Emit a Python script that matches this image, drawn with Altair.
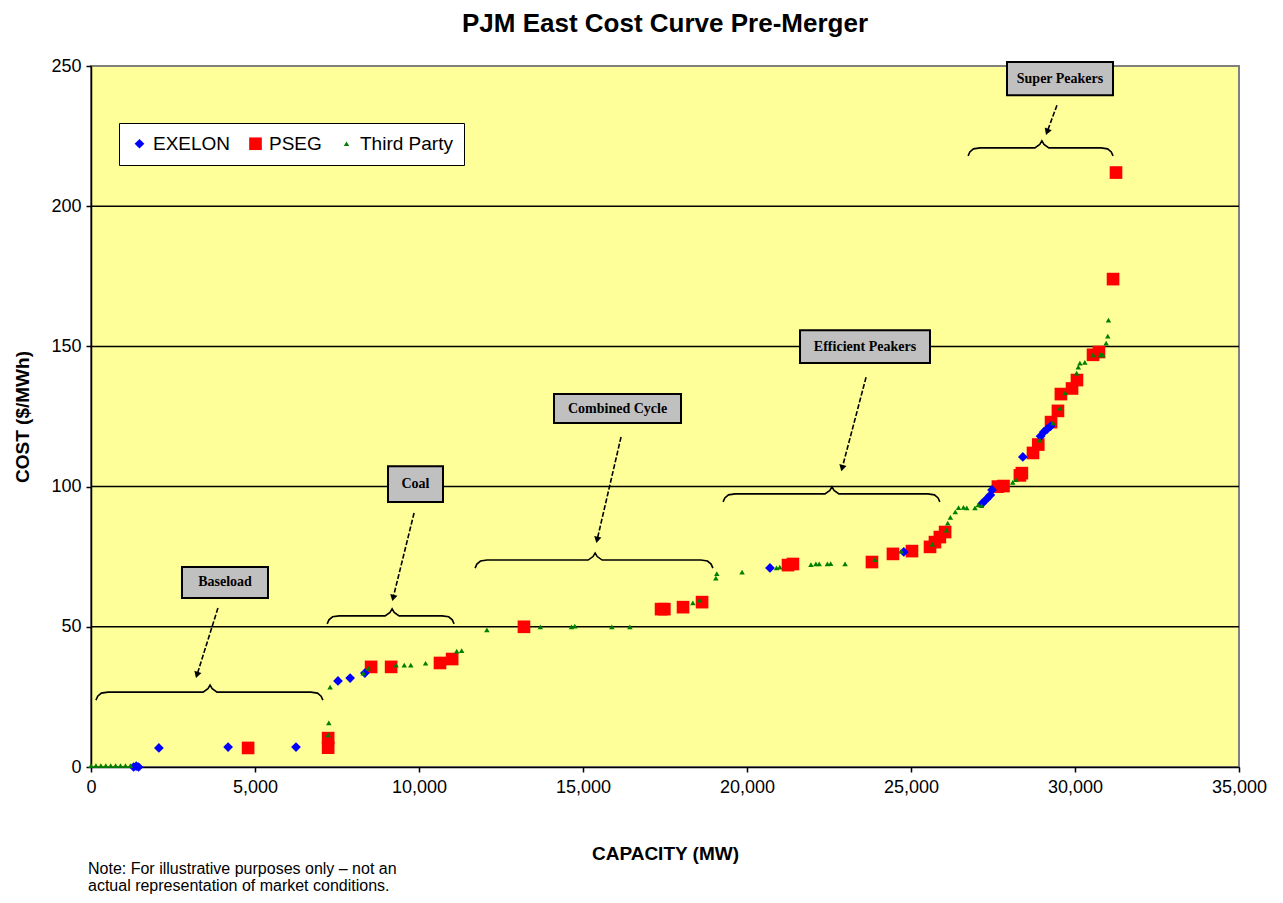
import math
import altair as alt
import pandas as pd

# ---------------- text ----------------
TITLE = "PJM East Cost Curve Pre-Merger"
X_TITLE = "CAPACITY (MW)"
Y_TITLE = "COST ($/MWh)"
NOTE_TEXT = "Note: For illustrative purposes only \u2013 not an\nactual representation of market conditions."

# ---------------- axes ----------------
x_ticks = [0, 5000, 10000, 15000, 20000, 25000, 30000, 35000]
y_ticks = [0, 50, 100, 150, 200, 250]
grid_values = [50, 100, 150, 200]

# ---------------- series ----------------
companies = ["EXELON", "PSEG", "Third Party"]
colors = ["#0000FF", "#FF0000", "#008000"]
shapes = ["diamond", "square", "triangle-up"]
sizes = [95, 160, 30]
draw_order = {"PSEG": 0, "EXELON": 1, "Third Party": 2}

exelon_x = [1300, 1380, 1450, 2070, 4180, 6250, 7530, 7900, 8350, 20700, 24780,
            27170, 27300, 27420, 27470, 28410, 28950, 29050, 29150, 29250]
exelon_y = [0, 0.3, 0, 6.8, 7.1, 7.1, 30.7, 31.7, 33.5, 71, 76.7,
            94, 95.5, 97, 98.8, 110.6, 118, 119.5, 120.5, 121.5]

pseg_x = [4790, 7230, 7230, 8540, 9150, 10640, 11010, 13200, 17380, 17480, 18050, 18630,
          21250, 21400, 23810, 24450, 25030, 25580, 25730, 25880, 26040,
          27650, 27820, 28320, 28380, 28720, 28880, 29270, 29480, 29570, 29910, 30060,
          30550, 30730, 31160, 31250]
pseg_y = [6.8, 6.9, 10.3, 35.7, 35.7, 37.1, 38.5, 50, 56.3, 56.3, 57, 58.8,
          72.0, 72.4, 73.1, 76, 77, 78.5, 80.2, 82, 83.8,
          100, 100.2, 104, 104.8, 112, 115, 123, 127, 133, 135, 138,
          147, 148, 174, 212]

third_x = [0, 150, 300, 450, 600, 750, 900, 1050, 1200,
           7230, 7250, 7290, 8300, 8450, 9300, 9550, 9750, 10200, 11150, 11300,
           12070, 13700, 14650, 14750, 15880, 16430, 18350, 18550, 19050, 19080, 19850,
           20900, 21000, 21950, 22100, 22200, 22450, 22550, 22990, 23900, 24700, 25650,
           26080, 26120, 26200, 26350, 26450, 26600, 26700, 26950, 27050, 27150,
           28100, 28200, 28930, 29330, 29540, 29700, 30050, 30100, 30150, 30300,
           30550, 30780, 30850, 30950, 31000, 31020]
third_y = [0.5, 0.5, 0.5, 0.5, 0.5, 0.5, 0.5, 0.5, 0.5,
           11.5, 15.7, 28.5, 33.5, 35.2, 36.3, 36.3, 36.3, 37, 41.3, 41.5,
           48.9, 50, 50, 50.2, 50, 50, 58.5, 59.5, 67.4, 69, 69.5,
           71, 71.3, 72.2, 72.4, 72.4, 72.4, 72.5, 72.4, 74, 77, 79.5,
           84.5, 87, 89, 91, 92.5, 92.6, 92.4, 92.4, 93.5, 93.2,
           101.5, 102.5, 116.6, 122.7, 128, 133.4, 140.5, 142.6, 144, 144.3,
           147, 147, 147, 151.2, 153.7, 159.4]

# ---------------- annotations ----------------
ann_labels = ["Baseload", "Coal", "Combined Cycle", "Efficient Peakers", "Super Peakers"]
box_x1 = [2774, 9055, 14116, 21616, 27927]
box_x2 = [5396, 10732, 17988, 25579, 31159]
box_y1 = [60.3, 94.5, 122.7, 144.1, 239.6]
box_y2 = [71.3, 107.3, 133.0, 155.8, 251.4]

brace_x0 = [150, 7200, 11710, 19270, 26740]
brace_x1 = [7070, 11070, 18960, 25880, 31160]
brace_mid = [3630, 9180, 15370, 22590, 28990]
brace_y = [26.7, 53.9, 73.8, 97.4, 220.8]

arrow_x0 = [3870, 9850, 16160, 23630, 29450]
arrow_y0 = [56.7, 90.6, 117.7, 139.0, 236.0]
arrow_x1 = [3230, 9210, 15430, 22900, 29150]
arrow_y1 = [32.8, 60.3, 81.0, 106.6, 226.5]

# ---------------- geometry ----------------
W, H = 1148, 701
X_MAX, Y_MAX = 35000, 250
PX_X = W / X_MAX
PX_Y = H / Y_MAX

rows = []
for name, xs_, ys_ in [("PSEG", pseg_x, pseg_y), ("EXELON", exelon_x, exelon_y),
                       ("Third Party", third_x, third_y)]:
    for a, b in zip(xs_, ys_):
        rows.append({"company": name, "capacity": a, "cost": b, "z": draw_order[name]})
points = pd.DataFrame(rows)

boxes = pd.DataFrame({"label": ann_labels, "x1": box_x1, "x2": box_x2, "y1": box_y1, "y2": box_y2})
boxes["xc"] = (boxes["x1"] + boxes["x2"]) / 2
boxes["yc"] = (boxes["y1"] + boxes["y2"]) / 2

# brace outline built from the brace arrays (offsets in pixels converted to data units)
brace_rows = []
hook_w, drop, peak_w, peak_h = 12, 8, 7, 7
for i, (x0, x1, xm, yb) in enumerate(zip(brace_x0, brace_x1, brace_mid, brace_y)):
    pts = [
        (x0, yb - drop / PX_Y),
        (x0 + 0.15 * hook_w / PX_X, yb - 0.5 * drop / PX_Y),
        (x0 + 0.45 * hook_w / PX_X, yb - 0.12 * drop / PX_Y),
        (x0 + hook_w / PX_X, yb),
        (xm - peak_w / PX_X, yb),
        (xm - 0.3 * peak_w / PX_X, yb + 0.5 * peak_h / PX_Y),
        (xm, yb + peak_h / PX_Y),
        (xm + 0.3 * peak_w / PX_X, yb + 0.5 * peak_h / PX_Y),
        (xm + peak_w / PX_X, yb),
        (x1 - hook_w / PX_X, yb),
        (x1 - 0.45 * hook_w / PX_X, yb - 0.12 * drop / PX_Y),
        (x1 - 0.15 * hook_w / PX_X, yb - 0.5 * drop / PX_Y),
        (x1, yb - drop / PX_Y),
    ]
    for k, (px, py) in enumerate(pts):
        brace_rows.append({"brace": i, "k": k, "bx": px, "by": py})
braces = pd.DataFrame(brace_rows)

arrows = pd.DataFrame({"x0": arrow_x0, "y0": arrow_y0, "x1": arrow_x1, "y1": arrow_y1})
arrows["angle"] = [
    (math.degrees(math.atan2(-(b - a) * PX_X, (c - d) * PX_Y)) + 360) % 360
    for a, b, c, d in zip(arrow_x0, arrow_x1, arrow_y0, arrow_y1)
]

grid_df = pd.DataFrame({"g": grid_values})
note_df = pd.DataFrame({"note": [NOTE_TEXT]})

# ---------------- chart ----------------
xs = alt.Scale(domain=[0, X_MAX], nice=False)
ys = alt.Scale(domain=[0, Y_MAX], nice=False)
x_axis = alt.Axis(values=x_ticks, labelExpr="format(datum.value, ',')", title=X_TITLE, grid=False,
                  labelPadding=6, titlePadding=48, labelFlush=False)
y_axis = alt.Axis(values=y_ticks, title=Y_TITLE, grid=False, labelPadding=5, titlePadding=18)

legend = alt.Legend(title=None, orient="none", legendX=28, legendY=57, direction="horizontal",
                    fillColor="white", strokeColor="black", padding=11, columnPadding=15,
                    labelFont="Liberation Sans", labelFontSize=19, labelColor="black",
                    labelOffset=4, symbolStrokeWidth=0)

grid = alt.Chart(grid_df).mark_rule(color="black", strokeWidth=1.5).encode(
    y=alt.Y("g:Q", scale=ys, axis=y_axis))

brace_layer = alt.Chart(braces).mark_line(color="black", strokeWidth=1.6).encode(
    x=alt.X("bx:Q", scale=xs, axis=x_axis),
    y=alt.Y("by:Q", scale=ys, axis=y_axis),
    detail="brace:N", order="k:Q")

arrow_lines = alt.Chart(arrows).mark_rule(color="black", strokeWidth=1.6, strokeDash=[5, 2]).encode(
    x=alt.X("x0:Q", scale=xs, axis=x_axis), y=alt.Y("y0:Q", scale=ys, axis=y_axis),
    x2="x1:Q", y2="y1:Q")

arrow_heads = alt.Chart(arrows).mark_point(shape="triangle-down", filled=True, color="black",
                                            size=55, opacity=1).encode(
    x=alt.X("x1:Q", scale=xs, axis=x_axis), y=alt.Y("y1:Q", scale=ys, axis=y_axis),
    angle=alt.Angle("angle:Q", scale=None))

box_layer = alt.Chart(boxes).mark_rect(fill="#C0C0C0", stroke="black", strokeWidth=2).encode(
    x=alt.X("x1:Q", scale=xs, axis=x_axis), x2="x2:Q",
    y=alt.Y("y1:Q", scale=ys, axis=y_axis), y2="y2:Q")

box_text = alt.Chart(boxes).mark_text(font="Liberation Serif", fontWeight="bold", fontSize=14,
                                      color="black").encode(
    x=alt.X("xc:Q", scale=xs, axis=x_axis), y=alt.Y("yc:Q", scale=ys, axis=y_axis),
    text="label:N")

pts_layer = alt.Chart(points).mark_point(filled=True, opacity=1, strokeWidth=0).encode(
    x=alt.X("capacity:Q", scale=xs, axis=x_axis),
    y=alt.Y("cost:Q", scale=ys, axis=y_axis),
    color=alt.Color("company:N", scale=alt.Scale(domain=companies, range=colors), legend=legend),
    shape=alt.Shape("company:N", scale=alt.Scale(domain=companies, range=shapes), legend=legend),
    size=alt.Size("company:N", scale=alt.Scale(type="ordinal", domain=companies, range=sizes),
                  legend=legend),
    order=alt.Order("z:Q"),
)

note = alt.Chart(note_df).mark_text(align="left", baseline="top", font="Liberation Sans",
                                    fontSize=16, lineBreak="\n", lineHeight=17,
                                    color="black").encode(
    x=alt.value(-3), y=alt.value(795), text="note:N")

chart = alt.layer(grid, brace_layer, arrow_lines, arrow_heads, box_layer, box_text, pts_layer, note).properties(
    width=W, height=H,
    padding={"left": 83, "top": 58, "right": 30, "bottom": 128},
    autosize=alt.AutoSizeParams(type="none"),
    background="white",
    title=alt.Title(TITLE, font="Liberation Sans", fontSize=26, fontWeight="bold", color="black",
                    anchor="middle", offset=20),
).configure_view(
    fill="#FFFF99", stroke="#808080", strokeWidth=2
).configure_axis(
    domainColor="black", domainWidth=1.5, tickColor="black", tickWidth=1.5, tickSize=5,
    labelFont="Liberation Sans", labelFontSize=18, labelColor="black",
    titleFont="Liberation Sans", titleFontSize=19, titleFontWeight="bold", titleColor="black"
)

chart.save("out.html", embed_options={"renderer": "svg", "actions": False})
